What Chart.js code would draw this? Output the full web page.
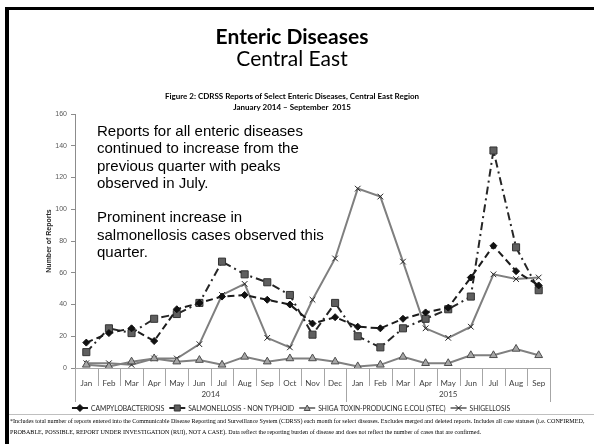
<!DOCTYPE html>
<html>
<head>
<meta charset="utf-8">
<script src="https://cdn.jsdelivr.net/npm/chart.js@4.4.1/dist/chart.umd.min.js"></script>
<style>
  html, body { margin: 0; padding: 0; background: #fff; }
  #page { position: relative; width: 594px; height: 444px; overflow: hidden; background: #fff; }
  #chart { position: absolute; left: 0; top: 0; }
  .frameL { position: absolute; left: 5px; top: 7px; width: 4px; height: 437px; background: #000; }
  .frameT { position: absolute; left: 5px; top: 7px; width: 589px; height: 3px; background: #000; }
  .c { position: absolute; left: 0; width: 584px; text-align: center; white-space: nowrap; color: #000; }
  #t1 { top: 23px; font: bold 21px Lato, sans-serif; }
  #t2 { top: 45px; font: 21px Lato, sans-serif; }
  #t3 { top: 91px; font: bold 8px Lato, sans-serif; line-height: 11px; }
  #note { position: absolute; left: 97px; top: 122px; font: 15px "Liberation Sans", Arial, sans-serif; line-height: 17.3px; color: #000; white-space: nowrap; }
  #rule { position: absolute; left: 9px; top: 414px; width: 585px; height: 1px; background: #bfbfbf; }
  #foot { position: absolute; left: 10px; top: 416px; font: 6.1px "Liberation Serif", serif; line-height: 10.5px; color: #000; white-space: nowrap; }
</style>
</head>
<body>
<div id="page">
  <canvas id="chart" width="594" height="444"></canvas>
  <div class="frameL"></div>
  <div class="frameT"></div>
  <div class="c" id="t1">Enteric Diseases</div>
  <div class="c" id="t2">Central East</div>
  <div class="c" id="t3">Figure 2: CDRSS Reports of Select Enteric Diseases, Central East Region<br>January 2014 – September&nbsp; 2015</div>
  <div id="note">Reports for all enteric diseases<br>continued to increase from the<br>previous quarter with peaks<br>observed in July.<br><br>Prominent increase in<br>salmonellosis cases observed this<br>quarter.</div>
  <div id="rule"></div>
  <div id="foot">*Includes total number of reports entered into the Communicable Disease Reporting and Surveillance System (CDRSS) each month for select diseases. Excludes merged and deleted reports. Includes all case statuses (i.e. CONFIRMED,<br>PROBABLE, POSSIBLE, REPORT UNDER INVESTIGATION (RUI), NOT A CASE). Data reflect the reporting burden of disease and does not reflect the number of cases that are confirmed.</div>
</div>
<script>
const months = ['Jan','Feb','Mar','Apr','May','Jun','Jul','Aug','Sep','Oct','Nov','Dec',
                'Jan','Feb','Mar','Apr','May','Jun','Jul','Aug','Sep'];
const years = ['2014', '2015'];
const yearSpans = [12, 9];

const campy = [16, 22, 25, 17, 37, 41, 45, 46, 43, 40, 28, 32, 26, 25, 31, 35, 38, 57, 77, 61, 52];
const salmonella = [10, 25, 22, 31, 34, 41, 67, 59, 54, 46, 21, 41, 20, 13, 25, 31, 37, 45, 137, 76, 49];
const stec = [2, 1, 4, 6, 4, 5, 2, 7, 4, 6, 6, 4, 1, 2, 7, 3, 3, 8, 8, 12, 8];
const shigella = [3, 3, 2, 6, 6, 15, 46, 53, 19, 13, 43, 69, 113, 108, 67, 25, 19, 26, 59, 56, 57];

const yTicks = { min: 0, max: 160, step: 20 };

// little marker drawer for the legend samples
function drawMarker(ctx, style, x, y, fill, stroke) {
  ctx.save();
  ctx.fillStyle = fill; ctx.strokeStyle = stroke; ctx.lineWidth = 1;
  ctx.setLineDash([]);
  ctx.beginPath();
  if (style === 'rectRot') {
    ctx.moveTo(x, y - 3.5); ctx.lineTo(x + 3.5, y); ctx.lineTo(x, y + 3.5); ctx.lineTo(x - 3.5, y); ctx.closePath();
    ctx.fill(); ctx.stroke();
  } else if (style === 'rect') {
    ctx.rect(x - 3, y - 3, 6, 6); ctx.fill(); ctx.stroke();
  } else if (style === 'triangle') {
    ctx.moveTo(x, y - 3); ctx.lineTo(x + 3, y + 2.5); ctx.lineTo(x - 3, y + 2.5); ctx.closePath();
    ctx.fill(); ctx.stroke();
  } else {
    ctx.moveTo(x - 3, y - 3); ctx.lineTo(x + 3, y + 3); ctx.moveTo(x + 3, y - 3); ctx.lineTo(x - 3, y + 3);
    ctx.stroke();
  }
  ctx.restore();
}

const axisBoxes = {
  id: 'axisBoxes',
  afterDraw(chart) {
    const { ctx, chartArea } = chart;
    const x = chart.scales.x;
    const b = chartArea.bottom;
    const edges = [0];
    yearSpans.forEach(n => edges.push(edges[edges.length - 1] + n));

    ctx.save();
    ctx.strokeStyle = '#a6a6a6';
    ctx.lineWidth = 1;
    for (let i = 0; i <= months.length; i++) {
      const px = Math.round(x.getPixelForValue(i - 0.5)) + 0.5;
      const long = edges.includes(i);
      ctx.beginPath();
      ctx.moveTo(px, b);
      ctx.lineTo(px, b + (long ? 34 : 18));
      ctx.stroke();
    }
    ctx.fillStyle = '#404040';
    ctx.font = '8px Lato';
    ctx.textAlign = 'center';
    ctx.textBaseline = 'middle';
    let start = 0;
    years.forEach((yr, k) => {
      const end = start + yearSpans[k];
      const cx = (x.getPixelForValue(start - 0.5) + x.getPixelForValue(end - 0.5)) / 2;
      ctx.fillText(yr, cx, b + 26);
      start = end;
    });

    // legend
    ctx.font = '6.7px Lato';
    ctx.textAlign = 'left';
    const sw = 16, gap = 3, between = 5;
    const items = chart.data.datasets;
    let total = 0;
    items.forEach((d, k) => { total += sw + gap + ctx.measureText(d.label).width + (k < items.length - 1 ? between : 0); });
    let lx = 291 - total / 2;
    const ly = 408;
    items.forEach(d => {
      ctx.strokeStyle = d.borderColor;
      ctx.lineWidth = 2;
      ctx.setLineDash([]);
      ctx.beginPath(); ctx.moveTo(lx, ly); ctx.lineTo(lx + sw, ly); ctx.stroke();
      drawMarker(ctx, d.pointStyle, lx + sw / 2, ly, d.pointBackgroundColor || d.pointBorderColor, d.pointBorderColor);
      ctx.fillStyle = '#262626';
      ctx.fillText(d.label, lx + sw + gap, ly + 0.5);
      lx += sw + gap + ctx.measureText(d.label).width + between;
    });
    ctx.restore();
  }
};

new Chart(document.getElementById('chart'), {
  type: 'line',
  data: {
    labels: months,
    datasets: [
      {
        label: 'CAMPYLOBACTERIOSIS', data: campy,
        borderColor: '#1c1c1c', borderWidth: 2, borderDash: [7, 4],
        pointStyle: 'rectRot', pointRadius: 3.5,
        pointBackgroundColor: '#111', pointBorderColor: '#111', pointBorderWidth: 1
      },
      {
        label: 'SALMONELLOSIS - NON TYPHOID', data: salmonella,
        borderColor: '#262626', borderWidth: 2, borderDash: [8, 4, 2, 4],
        pointStyle: 'rect', pointRadius: 5,
        pointBackgroundColor: '#5f5f5f', pointBorderColor: '#333', pointBorderWidth: 1
      },
      {
        label: 'SHIGA TOXIN-PRODUCING E.COLI (STEC)', data: stec,
        borderColor: '#808080', borderWidth: 2,
        pointStyle: 'triangle', pointRadius: 4.5,
        pointBackgroundColor: '#a6a6a6', pointBorderColor: '#4d4d4d', pointBorderWidth: 1
      },
      {
        label: 'SHIGELLOSIS', data: shigella,
        borderColor: '#7f7f7f', borderWidth: 2,
        pointStyle: 'crossRot', pointRadius: 4,
        pointBorderColor: '#262626', pointBorderWidth: 1
      }
    ]
  },
  options: {
    responsive: false,
    animation: false,
    layout: { padding: { left: 45, right: 44, top: 114, bottom: 40 } },
    plugins: { legend: { display: false }, tooltip: { enabled: false } },
    scales: {
      x: {
        offset: true,
        grid: { display: false },
        border: { color: '#a6a6a6' },
        ticks: { font: { family: 'Lato', size: 8 }, color: '#404040', padding: 3, maxRotation: 0, autoSkip: false },
        afterFit(s) { s.height = 36; }
      },
      y: {
        min: yTicks.min, max: yTicks.max,
        ticks: { stepSize: yTicks.step, font: { family: 'Liberation Sans', size: 7 }, color: '#595959', padding: 4 },
        grid: { drawOnChartArea: false, tickLength: 4, color: '#8c8c8c' },
        border: { color: '#8c8c8c' },
        title: { display: true, text: 'Number of Reports', font: { family: 'Liberation Sans', size: 7, weight: 'bold' }, color: '#262626', padding: 0 },
        afterFit(s) { s.width = 30; }
      }
    }
  },
  plugins: [axisBoxes]
});
</script>
</body>
</html>
